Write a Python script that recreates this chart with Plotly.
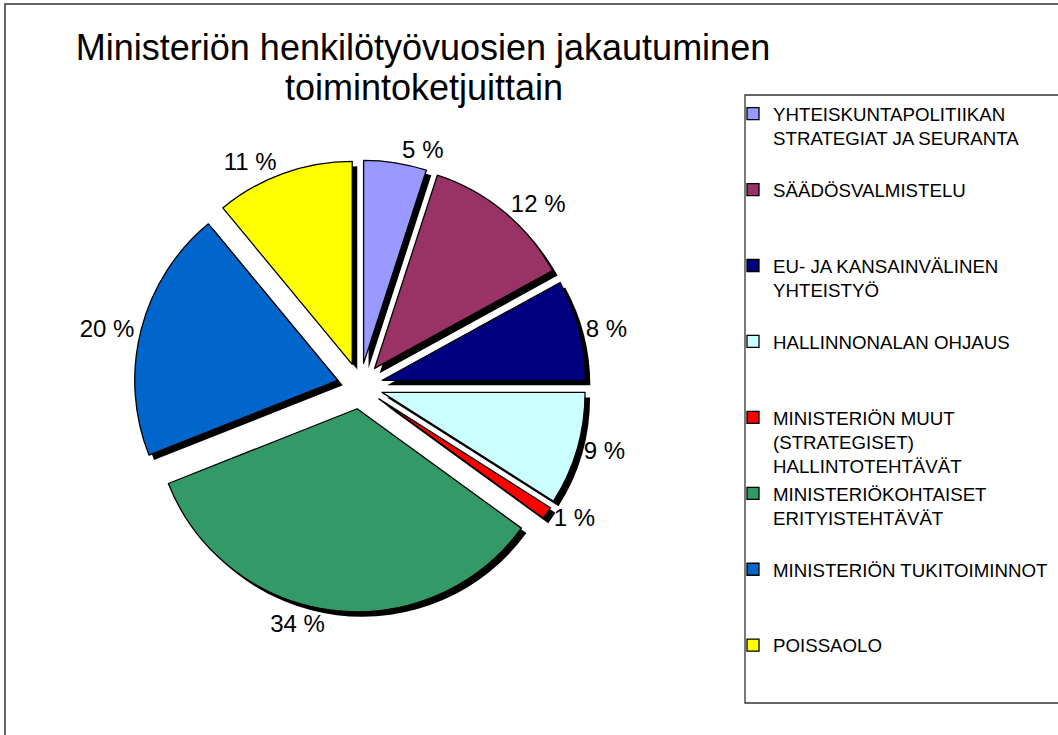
import plotly.graph_objects as go

# ---- data ----
categories = [
    "YHTEISKUNTAPOLITIIKAN<br>STRATEGIAT JA SEURANTA",
    "SÄÄDÖSVALMISTELU",
    "EU- JA KANSAINVÄLINEN<br>YHTEISTYÖ",
    "HALLINNONALAN OHJAUS",
    "MINISTERIÖN MUUT<br>(STRATEGISET)<br>HALLINTOTEHTÄVÄT",
    "MINISTERIÖKOHTAISET<br>ERITYISTEHTÄVÄT",
    "MINISTERIÖN TUKITOIMINNOT",
    "POISSAOLO",
]
shares = [5, 12, 8, 9, 1, 34, 20, 11]
colors = ["#9999FF", "#993366", "#000080", "#CCFFFF",
          "#FF0000", "#339966", "#0066CC", "#FFFF00"]
title_line1 = "Ministeriön henkilötyövuosien jakautuminen"
title_line2 = "toimintoketjuittain"

# ---- layout helpers ----
W, H = 1058, 735
FONT = "Liberation Sans, Arial, sans-serif"
PULL = 0.113


def pad_lines(label, n=3):
    k = label.count("<br>") + 1
    return label + "<br> " * (n - k)


legend_labels = [pad_lines(c) for c in categories]

cx, cy, half = 360, 386, 226
dom_x = [(cx - half) / W, (cx + half) / W]
dom_y = [1 - (cy + half) / H, 1 - (cy - half) / H]
sx, sy = 5 / W, 5 / H

fig = go.Figure()

# shadow pie
fig.add_trace(go.Pie(
    labels=legend_labels, values=shares, sort=False, direction="clockwise",
    rotation=0, pull=PULL, showlegend=False, textinfo="none",
    hoverinfo="skip",
    marker=dict(colors=["#000000"] * len(shares), line=dict(width=0)),
    domain=dict(x=[dom_x[0] + sx, dom_x[1] + sx], y=[dom_y[0] - sy, dom_y[1] - sy]),
))

# main pie
fig.add_trace(go.Pie(
    labels=legend_labels, values=shares, sort=False, direction="clockwise",
    rotation=0, pull=PULL,
    texttemplate="%{value} %", textposition="outside",
    outsidetextfont=dict(family=FONT, size=24, color="#000000"),
    marker=dict(colors=colors, line=dict(color="#000000", width=1.3)),
    domain=dict(x=dom_x, y=dom_y),
))

fig.update_layout(
    width=W, height=H,
    margin=dict(l=0, r=0, t=0, b=0),
    paper_bgcolor="white", plot_bgcolor="white",
    font=dict(family=FONT, color="#000000"),
    title=dict(text=title_line1, x=423 / W, xanchor="center",
               y=1 - 47 / H, yanchor="middle",
               font=dict(family=FONT, size=36, color="#000000")),
    annotations=[dict(text=title_line2, xref="paper", yref="paper",
                      x=424 / W, y=1 - 88 / H, xanchor="center", yanchor="middle",
                      showarrow=False,
                      font=dict(family=FONT, size=36, color="#000000"))],
    legend=dict(x=733 / W, xanchor="left", y=1 - 95 / H, yanchor="top",
                font=dict(family=FONT, size=18.7, color="#000000"),
                borderwidth=0, bgcolor="rgba(0,0,0,0)",
                valign="top", itemwidth=30, traceorder="normal"),
    shapes=[
        dict(type="rect", xref="paper", yref="paper",
             x0=5 / W, x1=1.05, y0=-0.05, y1=1 - 4 / H,
             line=dict(color="#333333", width=1.5), layer="below"),
        dict(type="rect", xref="paper", yref="paper",
             x0=745 / W, x1=1.05, y0=1 - 703 / H, y1=1 - 95 / H,
             line=dict(color="#333333", width=1.3), layer="below"),
    ],
)

fig.write_html("out.html", config={"displayModeBar": False},
               post_script="document.body.style.margin='0';document.body.style.padding='0';")
